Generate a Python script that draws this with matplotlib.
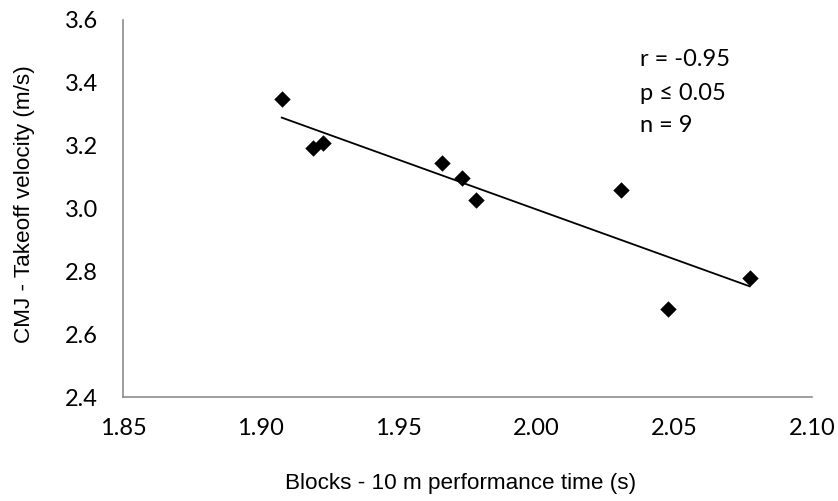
import numpy as np
import matplotlib
matplotlib.use("Agg")
import matplotlib.pyplot as plt

# Blocks 10 m performance time (s) vs CMJ takeoff velocity (m/s)
block_time = [1.9076, 1.919, 1.9225, 1.9656, 1.9731, 1.9782, 2.0306, 2.0479, 2.0774]
takeoff_vel = [3.348, 3.194, 3.209, 3.146, 3.096, 3.027, 3.059, 2.679, 2.779]

x_ticks = [1.85, 1.90, 1.95, 2.00, 2.05, 2.10]
y_ticks = [2.4, 2.6, 2.8, 3.0, 3.2, 3.4, 3.6]
stats_lines = ["r = -0.95", "p \u2264 0.05", "n = 9"]

tick_font = "Lato"
label_font = "Liberation Sans"

fig = plt.figure(figsize=(8.38, 5.01), dpi=100)
ax = fig.add_axes([123 / 838, 1 - 397 / 501, (812 - 123) / 838, (397 - 20) / 501])

x = np.array(block_time)
y = np.array(takeoff_vel)
slope, intercept = np.polyfit(x, y, 1)
xf = np.array([x.min(), x.max()])
ax.plot(xf, slope * xf + intercept, color="black", lw=1.3, zorder=2)
ax.scatter(x, y, marker="D", s=70, color="black", zorder=3, linewidths=0)

ax.set_xlim(1.85, 2.10)
ax.set_ylim(2.4, 3.6)
ax.set_xticks(x_ticks)
ax.set_yticks(y_ticks)
ax.set_xticklabels([f"{v:.2f}" for v in x_ticks], fontfamily=tick_font, fontsize=17)
ax.set_yticklabels([f"{v:.1f}" for v in y_ticks], fontfamily=tick_font, fontsize=17)
ax.tick_params(axis="x", length=0, pad=15)
ax.tick_params(axis="y", length=0, pad=18)

for side in ("top", "right"):
    ax.spines[side].set_visible(False)
for side in ("left", "bottom"):
    ax.spines[side].set_color("#8c8c8c")
    ax.spines[side].set_linewidth(1.2)

fig.text(461 / 838, 1 - 484 / 501, "Blocks - 10 m performance time (s)",
         fontfamily=label_font, fontsize=16.2, ha="center", va="center")
fig.text(25 / 838, 1 - 204 / 501, "CMJ - Takeoff velocity (m/s)",
         fontfamily=label_font, fontsize=16.2, ha="center", va="center", rotation=90)

for i, line in enumerate(stats_lines):
    fig.text(640 / 838, 1 - (60 + 33 * i) / 501, line, fontfamily=tick_font, fontsize=17,
             va="center", ha="left")

fig.savefig("out.png", dpi=100, facecolor="white")
